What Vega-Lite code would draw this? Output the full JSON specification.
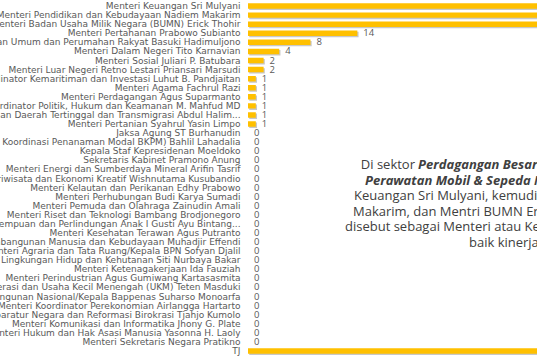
{
  "$schema": "https://vega.github.io/schema/vega-lite/v6.json",
  "width": 289,
  "height": 354,
  "autosize": {"type": "none"},
  "padding": {"left": 248, "top": 1.5, "right": 0, "bottom": 4.5},
  "background": "white",
  "config": {"view": {"stroke": null}, "font": "Open Sans"},
  "resolve": {"scale": {"y": "independent"}},
  "layer": [
    {
      "data": {
        "values": [
          {"name": "Menteri Keuangan Sri Mulyani", "value": 60},
          {"name": "Menteri Pendidikan dan Kebudayaan Nadiem Makarim", "value": 52},
          {"name": "Menteri Badan Usaha Milik Negara (BUMN) Erick Thohir", "value": 44},
          {"name": "Menteri Pertahanan Prabowo Subianto", "value": 14},
          {"name": "Menteri Pekerjaan Umum dan Perumahan Rakyat Basuki Hadimuljono", "value": 8},
          {"name": "Menteri Dalam Negeri Tito Karnavian", "value": 4},
          {"name": "Menteri Sosial Juliari P. Batubara", "value": 2},
          {"name": "Menteri Luar Negeri Retno Lestari Priansari Marsudi", "value": 2},
          {"name": "Menteri Koordinator Kemaritiman dan Investasi Luhut B. Pandjaitan", "value": 1},
          {"name": "Menteri Agama Fachrul Razi", "value": 1},
          {"name": "Menteri Perdagangan Agus Suparmanto", "value": 1},
          {"name": "Menteri Koordinator Politik, Hukum dan Keamanan M. Mahfud MD", "value": 1},
          {"name": "Menteri Pembangunan Daerah Tertinggal dan Transmigrasi Abdul Halim...", "value": 1},
          {"name": "Menteri Pertanian Syahrul Yasin Limpo", "value": 1},
          {"name": "Jaksa Agung ST Burhanudin", "value": 0},
          {"name": "Kepala Badan Koordinasi Penanaman Modal BKPM) Bahlil Lahadalia", "value": 0},
          {"name": "Kepala Staf Kepresidenan Moeldoko", "value": 0},
          {"name": "Sekretaris Kabinet Pramono Anung", "value": 0},
          {"name": "Menteri Energi dan Sumberdaya Mineral Arifin Tasrif", "value": 0},
          {"name": "Menteri Pariwisata dan Ekonomi Kreatif Wishnutama Kusubandio", "value": 0},
          {"name": "Menteri Kelautan dan Perikanan Edhy Prabowo", "value": 0},
          {"name": "Menteri Perhubungan Budi Karya Sumadi", "value": 0},
          {"name": "Menteri Pemuda dan Olahraga Zainudin Amali", "value": 0},
          {"name": "Menteri Riset dan Teknologi Bambang Brodjonegoro", "value": 0},
          {"name": "Menteri Pemberdayaan Perempuan dan Perlindungan Anak I Gusti Ayu Bintang...", "value": 0},
          {"name": "Menteri Kesehatan Terawan Agus Putranto", "value": 0},
          {"name": "Menteri Koordinator Pembangunan Manusia dan Kebudayaan Muhadjir Effendi", "value": 0},
          {"name": "Menteri Agraria dan Tata Ruang/Kepala BPN Sofyan Djalil", "value": 0},
          {"name": "Menteri Lingkungan Hidup dan Kehutanan Siti Nurbaya Bakar", "value": 0},
          {"name": "Menteri Ketenagakerjaan Ida Fauziah", "value": 0},
          {"name": "Menteri Perindustrian Agus Gumiwang Kartasasmita", "value": 0},
          {"name": "Menteri Koperasi dan Usaha Kecil Menengah (UKM) Teten Masduki", "value": 0},
          {"name": "Menteri Perencanaan Pembangunan Nasional/Kepala Bappenas Suharso Monoarfa", "value": 0},
          {"name": "Menteri Koordinator Perekonomian Airlangga Hartarto", "value": 0},
          {"name": "Menteri Pendayagunaan Aparatur Negara dan Reformasi Birokrasi Tjahjo Kumolo", "value": 0},
          {"name": "Menteri Komunikasi dan Informatika Jhony G. Plate", "value": 0},
          {"name": "Menteri Hukum dan Hak Asasi Manusia Yasonna H. Laoly", "value": 0},
          {"name": "Menteri Sekretaris Negara Pratikno", "value": 0},
          {"name": "TJ", "value": 192}
        ]
      },
      "encoding": {
        "y": {
          "field": "name",
          "type": "nominal",
          "sort": null,
          "scale": {"paddingInner": 0.4, "paddingOuter": 0.2},
          "axis": {
            "title": null,
            "ticks": false,
            "domain": false,
            "labelPadding": 8,
            "labelFontSize": 9,
            "labelColor": "#595959",
            "labelLimit": 600,
            "labelFont": "DejaVu Sans"
          }
        },
        "x": {
          "field": "value",
          "type": "quantitative",
          "scale": {"domain": [0, 37], "nice": false, "zero": true},
          "axis": null
        }
      },
      "layer": [
        {
          "mark": {"type": "bar", "color": "#9a9a9a", "opacity": 0.55, "xOffset": 1.2, "x2Offset": 1.2, "yOffset": 1.3, "clip": true}
        },
        {
          "mark": {"type": "bar", "color": "#FFC000", "clip": true}
        },
        {
          "mark": {"type": "text", "align": "left", "baseline": "middle", "dx": 6, "fontSize": 9.5, "color": "#595959", "font": "Open Sans", "clip": true},
          "encoding": {"text": {"field": "value", "type": "quantitative"}}
        }
      ]
    },
    {
      "data": {
        "values": [
          {"seg": "Di sektor", "ax": 21.38, "line": 1, "style": "regular", "al": "right"},
          {"seg": "Perdagangan Besar & Eceran;", "ax": 21.77, "line": 1, "style": "bold", "al": "left"},
          {"seg": "Perawatan Mobil & Sepeda Motor, Menteri", "ax": 14.98, "line": 2, "style": "bold", "al": "left"},
          {"seg": "Keuangan Sri Mulyani, kemudian Nadiem", "ax": 13.57, "line": 3, "style": "regular", "al": "left"},
          {"seg": "Makarim, dan Mentri BUMN Erick Thohir", "ax": 13.44, "line": 4, "style": "regular", "al": "left"},
          {"seg": "disebut sebagai Menteri atau Kepala Lembaga", "ax": 12.42, "line": 5, "style": "regular", "al": "left"},
          {"seg": "baik kinerjanya.", "ax": 28.29, "line": 6, "style": "regular", "al": "left"}
        ]
      },
      "encoding": {
        "x": {"field": "ax", "type": "quantitative"},
        "y": {
          "field": "line",
          "type": "quantitative",
          "scale": {"domain": [-9.48, 13.21], "reverse": true, "nice": false, "zero": false},
          "axis": null
        },
        "text": {"field": "seg"}
      },
      "layer": [
        {
          "transform": [{"filter": "datum.style === 'regular' && datum.al === 'left'"}],
          "mark": {"type": "text", "align": "left", "baseline": "middle", "fontSize": 13, "color": "#404040", "font": "Open Sans"}
        },
        {
          "transform": [{"filter": "datum.style === 'regular' && datum.al === 'right'"}],
          "mark": {"type": "text", "align": "right", "baseline": "middle", "fontSize": 13, "color": "#404040", "font": "Open Sans"}
        },
        {
          "transform": [{"filter": "datum.style === 'bold'"}],
          "mark": {"type": "text", "align": "left", "baseline": "middle", "fontSize": 13, "fontWeight": "bold", "fontStyle": "italic", "color": "#404040", "font": "Open Sans"}
        }
      ]
    }
  ]
}
